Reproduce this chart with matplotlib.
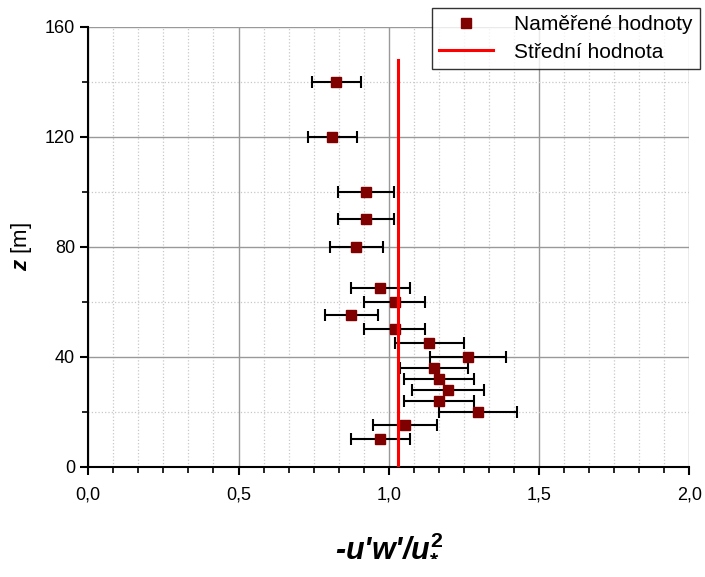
import numpy as np
import matplotlib
matplotlib.use('Agg')
import matplotlib.pyplot as plt
from matplotlib.lines import Line2D
from matplotlib.ticker import MultipleLocator, FuncFormatter, AutoMinorLocator

plt.rcParams['font.family'] = ['Liberation Sans', 'DejaVu Sans']
plt.rcParams['mathtext.fontset'] = 'custom'
plt.rcParams['mathtext.it'] = 'Liberation Sans:italic:bold'
plt.rcParams['mathtext.rm'] = 'Liberation Sans:bold'
plt.rcParams['mathtext.bf'] = 'Liberation Sans:italic:bold'

# measured values: height z [m], normalised stress and its error
z = [140, 120, 100, 90, 80, 65, 60, 55, 50, 45, 40, 36, 32, 28, 24, 20, 15, 10]
stress = [0.826, 0.812, 0.924, 0.924, 0.892, 0.972, 1.020, 0.875, 1.020,
          1.135, 1.264, 1.150, 1.167, 1.198, 1.167, 1.297, 1.054, 0.972]
stress_err = [0.082, 0.082, 0.093, 0.093, 0.089, 0.097, 0.102, 0.088, 0.102,
              0.114, 0.127, 0.113, 0.117, 0.120, 0.117, 0.130, 0.107, 0.097]

mean_value = 1.032
mean_z = [0, 148]

fig = plt.figure(figsize=(7.05, 5.77), dpi=100)
ax = fig.add_axes([0.1252, 0.1912, 0.8525, 0.7625])

ax.errorbar(stress, z, xerr=stress_err, fmt='s', color='#800000', ms=7.5,
            ecolor='black', elinewidth=1.5, capsize=4, capthick=1.5, zorder=4)
ax.plot([mean_value, mean_value], mean_z, color='red', lw=2.2, zorder=5)

ax.set_xlim(0, 2.0)
ax.set_ylim(0, 160)
ax.xaxis.set_major_locator(MultipleLocator(0.5))
ax.xaxis.set_minor_locator(AutoMinorLocator(6))
ax.yaxis.set_major_locator(MultipleLocator(40))
ax.yaxis.set_minor_locator(MultipleLocator(20))
ax.xaxis.set_major_formatter(FuncFormatter(lambda v, p: f'{v:.1f}'.replace('.', ',')))

ax.grid(which='major', color='#999999', lw=1.0, ls='-')
ax.grid(which='minor', color='#c8c8c8', lw=0.9, ls=':')
ax.set_axisbelow(True)

for s in ['top', 'right']:
    ax.spines[s].set_visible(False)
for s in ['left', 'bottom']:
    ax.spines[s].set_linewidth(1.5)
ax.tick_params(which='major', direction='out', length=6, width=1.5, labelsize=13)
ax.tick_params(axis='x', which='major', pad=8)
ax.tick_params(which='minor', direction='out', length=4, width=1.2)

ax.set_ylabel(r'$z$ [m]', fontsize=16, labelpad=8)
ax.set_xlabel(r"-u'w'/$u_{*}^{2}$", fontsize=22, labelpad=20,
              fontweight='bold', fontstyle='italic')

handles = [Line2D([], [], ls='none', marker='s', color='#800000', ms=7.5),
           Line2D([], [], color='red', lw=2.2)]
labels = ['Naměřené hodnoty', 'Střední hodnota']
leg = fig.legend(handles, labels, loc='upper right', bbox_to_anchor=(0.993, 0.986),
                 fontsize=15, frameon=True, fancybox=False, edgecolor='black',
                 borderaxespad=0, handlelength=2.6, borderpad=0.35, labelspacing=0.4,
                 handletextpad=1.0)
leg.get_frame().set_linewidth(1.0)

fig.savefig('out.png', dpi=100)
